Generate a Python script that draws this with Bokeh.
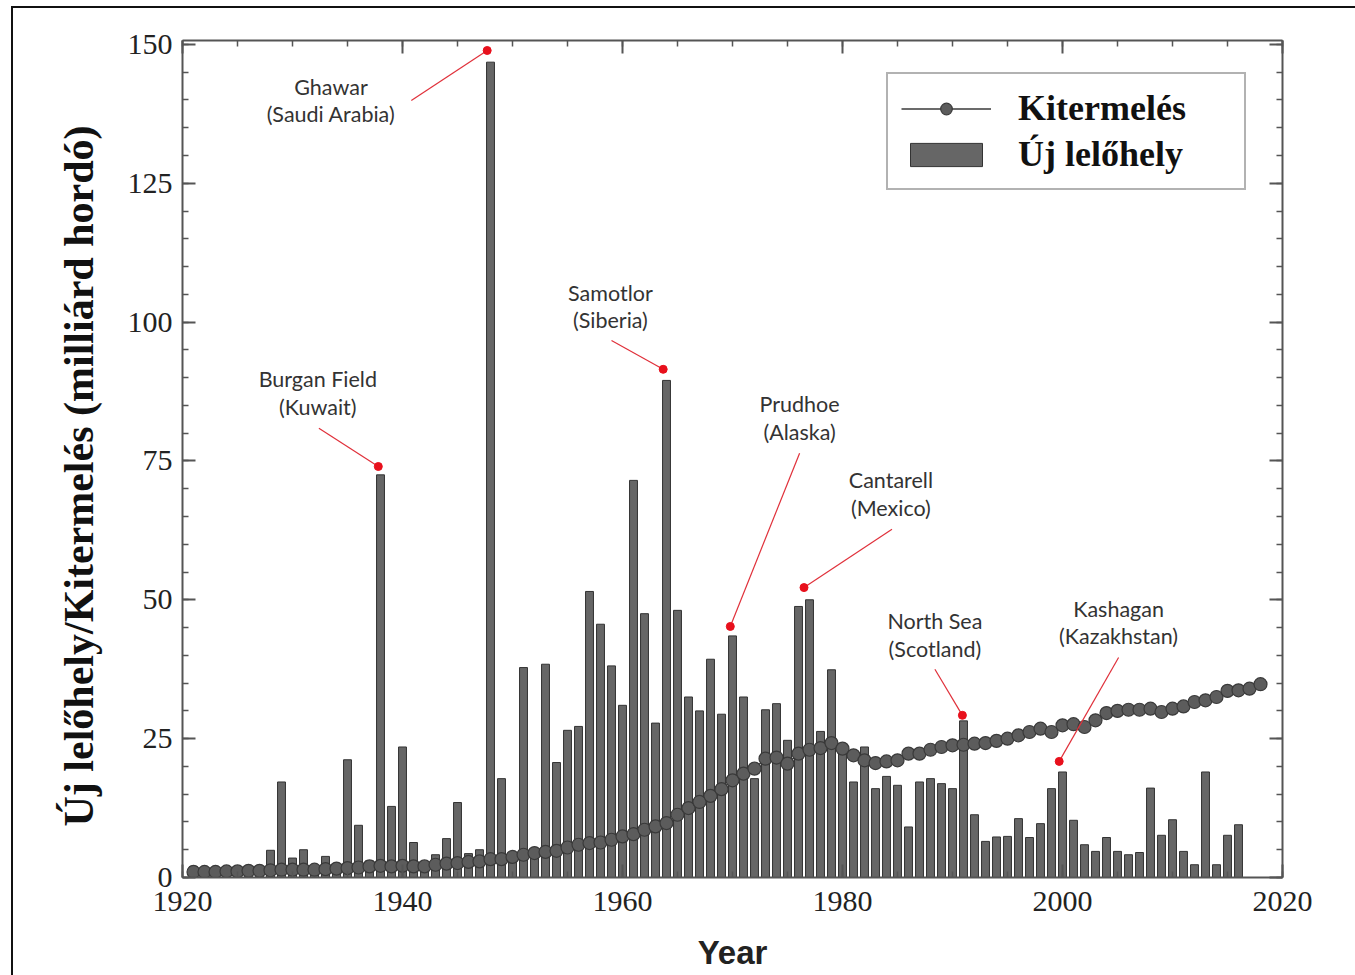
from bokeh.plotting import figure
from bokeh.models import (Range1d, LinearAxis, SingleIntervalTicker, Legend,
                          LegendItem, CustomJSTickFormatter, Title)
from bokeh.core.properties import value
from bokeh.embed import file_html
from bokeh.resources import INLINE

# ---------------- data ----------------
bar_years = list(range(1921, 2017))
new_fields = [
    2.0, 0.6, 0.6, 0.8, 1.0, 1.4, 1.2, 4.9, 17.2,            # 1921-1929
    3.5, 5.0, 1.5, 3.8, 2.5, 21.2, 9.4, 3.0, 72.5, 12.8,     # 1930-1939
    23.5, 6.3, 2.5, 4.1, 7.0, 13.5, 4.3, 5.0, 146.8, 17.8,   # 1940-1949
    4.5, 37.8, 4.5, 38.4, 20.7, 26.5, 27.2, 51.5, 45.6, 38.1,  # 1950-1959
    31.0, 71.5, 47.5, 27.8, 89.5, 48.1, 32.5, 30.0, 39.3, 29.4,  # 1960-1969
    43.5, 32.5, 17.8, 30.2, 31.3, 24.7, 48.8, 50.0, 26.3, 37.4,  # 1970-1979
    22.5, 17.2, 23.5, 16.0, 18.2, 16.6, 9.1, 17.2, 17.8, 16.9,   # 1980-1989
    16.0, 28.2, 11.3, 6.5, 7.3, 7.4, 10.6, 7.2, 9.7, 16.0,       # 1990-1999
    19.0, 10.3, 5.9, 4.7, 7.2, 4.7, 4.1, 4.5, 16.1, 7.6,         # 2000-2009
    10.4, 4.7, 2.3, 19.0, 2.3, 7.6, 9.5,                          # 2010-2016
]
prod_years = list(range(1921, 2019))
production = [
    1.0, 1.0, 1.0, 1.1, 1.1, 1.2, 1.2, 1.3, 1.4,               # 1921-1929
    1.4, 1.4, 1.4, 1.5, 1.6, 1.7, 1.8, 2.0, 2.1, 2.0,          # 1930-1939
    2.1, 2.0, 2.0, 2.3, 2.5, 2.6, 2.8, 2.9, 3.3, 3.3,          # 1940-1949
    3.7, 4.1, 4.4, 4.6, 4.8, 5.4, 5.9, 6.2, 6.3, 6.8,          # 1950-1959
    7.4, 7.8, 8.6, 9.2, 9.8, 11.3, 12.5, 13.6, 14.7, 15.9,     # 1960-1969
    17.5, 18.7, 19.6, 21.4, 21.6, 20.5, 22.3, 23.0, 23.3, 24.2,  # 1970-1979
    23.2, 22.0, 21.1, 20.6, 20.9, 21.1, 22.3, 22.3, 23.0, 23.5,  # 1980-1989
    23.8, 23.9, 24.1, 24.2, 24.6, 25.0, 25.6, 26.2, 26.8, 26.2,  # 1990-1999
    27.4, 27.6, 27.1, 28.3, 29.6, 30.0, 30.2, 30.2, 30.4, 29.8,  # 2000-2009
    30.4, 30.8, 31.6, 31.9, 32.5, 33.6, 33.7, 34.0, 34.8,        # 2010-2018
]
assert len(new_fields) == len(bar_years)
assert len(production) == len(prod_years)

ann_name = ["Ghawar", "Burgan Field", "Samotlor", "Prudhoe", "Cantarell",
            "North Sea", "Kashagan"]
ann_region = ["(Saudi Arabia)", "(Kuwait)", "(Siberia)", "(Alaska)",
              "(Mexico)", "(Scotland)", "(Kazakhstan)"]
ann_dot_x = [1947.7, 1937.8, 1963.7, 1969.8, 1976.5, 1990.9, 1999.7]
ann_dot_y = [148.9, 74.0, 91.5, 45.2, 52.2, 29.2, 20.9]
ann_text_x = [1933.5, 1932.3, 1958.9, 1976.1, 1984.4, 1988.4, 2005.1]
ann_text_y = [142.3, 89.7, 105.3, 85.2, 71.5, 46.1, 48.3]
ann_line_x = [1940.8, 1932.4, 1959.0, 1976.1, 1984.5, 1988.4, 2005.1]
ann_line_y = [139.9, 80.9, 96.7, 76.4, 62.7, 37.5, 39.6]

x_ticks_interval = 20
y_ticks_interval = 25

# ---------------- figure ----------------
p = figure(frame_width=1100, frame_height=837,
           x_range=Range1d(1920, 2020), y_range=Range1d(0, 150.7),
           output_backend="svg", toolbar_location=None,
           min_border_left=169, min_border_top=32, min_border_right=73,
           min_border_bottom=98)
p.styles = {"margin-left": "11px", "margin-top": "6px",
            "border-left": "2px solid #111", "border-top": "2px solid #111"}
p.xgrid.visible = False
p.ygrid.visible = False
p.outline_line_color = None
p.background_fill_color = "white"
p.border_fill_color = "white"

xb = p.below[0]
yl = p.left[0]
xb.ticker = SingleIntervalTicker(interval=x_ticks_interval, num_minor_ticks=4)
yl.ticker = SingleIntervalTicker(interval=y_ticks_interval, num_minor_ticks=5)

top_ax = LinearAxis(ticker=SingleIntervalTicker(interval=x_ticks_interval, num_minor_ticks=4),
                    formatter=CustomJSTickFormatter(code="return ''"))
right_ax = LinearAxis(ticker=SingleIntervalTicker(interval=y_ticks_interval, num_minor_ticks=5),
                      formatter=CustomJSTickFormatter(code="return ''"))
p.add_layout(top_ax, "above")
p.add_layout(right_ax, "right")

for ax in [xb, yl, top_ax, right_ax]:
    ax.axis_line_color = "#555555"
    ax.axis_line_width = 2
    ax.major_tick_line_color = "#555555"
    ax.major_tick_line_width = 2
    ax.minor_tick_line_color = "#555555"
    ax.minor_tick_line_width = 1.5
    ax.major_tick_in = 13
    ax.major_tick_out = 0
    ax.minor_tick_in = 6
    ax.minor_tick_out = 0
    ax.major_label_text_font = "Liberation Serif"
    ax.major_label_text_font_size = "30px"
    ax.major_label_text_color = "#222222"

top_ax.major_label_standoff = 0
right_ax.major_label_standoff = 0

xb.axis_label = "Year"
xb.major_label_standoff = 14
xb.axis_label_standoff = 20
xb.axis_label_text_font = "Liberation Sans"
xb.axis_label_text_font_style = "bold"
xb.axis_label_text_font_size = "33px"
xb.axis_label_text_color = "#222222"

yl.major_label_standoff = 10

ytitle = Title(text="Új lelőhely/Kitermelés (milliárd hordó)", align="left",
               offset=51, standoff=45, text_font="Liberation Serif",
               text_font_style="bold", text_font_size="42px",
               text_color="#111111")
p.add_layout(ytitle, "left")

# ---------------- glyphs ----------------
bars = p.vbar(x=bar_years, top=new_fields, bottom=0, width=0.72,
              fill_color="#666666", line_color="#333333", line_width=1)
prod_line = p.line(prod_years, production, line_color="#3a3a3a", line_width=1.5)
prod_dots = p.scatter(prod_years, production, size=13, marker="circle",
                      fill_color="#5c5c5c", line_color="#3a3a3a", line_width=1.2)

p.segment(x0=ann_line_x, y0=ann_line_y, x1=ann_dot_x, y1=ann_dot_y,
          line_color="#e0303a", line_width=1.2)
p.scatter(ann_dot_x, ann_dot_y, size=8, marker="circle",
          fill_color="#e8101c", line_color="#e8101c")

line_gap = 4.9
p.text(x=ann_text_x, y=ann_text_y, text=ann_name,
       text_font=value("Lato"), text_font_size="21.5px", text_color="#333333",
       text_align="center", text_baseline="middle")
p.text(x=ann_text_x, y=[v - line_gap for v in ann_text_y], text=ann_region,
       text_font=value("Lato"), text_font_size="21.5px", text_color="#333333",
       text_align="center", text_baseline="middle")

# ---------------- legend ----------------
legend = Legend(items=[LegendItem(label="Kitermelés", renderers=[prod_line, prod_dots]),
                       LegendItem(label="Új lelőhely", renderers=[bars])],
                location=(704, 687), orientation="vertical")
legend.border_line_color = "#666666"
legend.border_line_width = 2
legend.background_fill_color = "white"
legend.background_fill_alpha = 1
legend.label_text_font = "Liberation Serif"
legend.label_text_font_style = "bold"
legend.label_text_font_size = "36px"
legend.label_text_color = "#111111"
legend.glyph_width = 90
legend.glyph_height = 29
legend.label_standoff = 27
legend.padding = 13
legend.spacing = 4
legend.label_width = 213
legend.margin = 0
p.add_layout(legend, "center")

open("out.html", "w").write(file_html(p, INLINE))
